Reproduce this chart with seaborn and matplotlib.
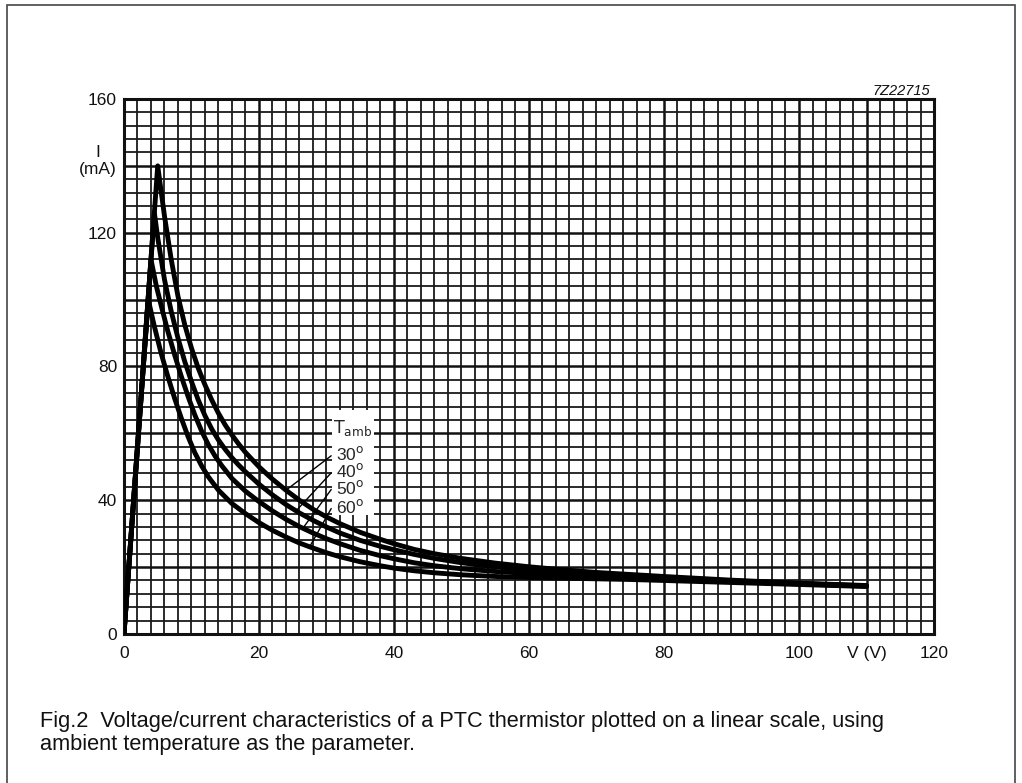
import numpy as np
import pandas as pd
import matplotlib.pyplot as plt
from matplotlib.patches import Rectangle
import seaborn as sns


# Data --------------------------------------------------------------------------------------------

temps = ["30", "40", "50", "60"]

v_30 = [0, 5, 6, 7, 8, 9, 10, 11, 12, 13, 14, 15, 16, 17, 18, 20, 22, 24, 26, 28, 30, 32, 35, 38, 40,
        43, 46, 50, 55, 60, 65, 70, 75, 80, 90, 100, 110]
i_30 = [0, 140, 125, 112, 101, 92.5, 85.5, 79.5, 74.5, 70, 66, 62.5, 59.5, 56.8, 54.3, 50, 46.3, 43, 40,
        37.3, 35, 33, 30.4, 28.3, 27, 25.3, 24, 22.6, 21.2, 20.1, 19.2, 18.4, 17.8, 17.2, 16.1, 15.2, 14.5]

v_40 = [0, 4.5, 5, 6, 7, 8, 9, 10, 11, 12, 13, 14, 15, 16, 17, 18, 20, 22, 24, 26, 28, 30, 32, 35, 38,
        40, 43, 46, 50, 55, 60, 65, 70, 75, 80, 90, 100, 110]
i_40 = [0, 126, 118.5, 106, 96.5, 88.5, 81.5, 75.5, 70, 65.3, 61.3, 58, 55.2, 52.7, 50.5, 48.5, 44.8, 41.6,
        38.7, 36.2, 34, 32, 30.2, 28, 26.2, 25.2, 23.8, 22.6, 21.3, 20.1, 19.2, 18.5, 17.9, 17.4, 16.9, 15.9,
        15.1, 14.4]

v_50 = [0, 4.0, 4.8, 5.6, 6.5, 7.5, 8.5, 9.5, 10.5, 11.5, 12.5, 13.5, 14.5, 16, 18, 20, 22, 24, 26, 28,
        30, 32, 35, 38, 40, 43, 46, 50, 55, 60, 65, 70, 75, 80, 90, 100, 110]
i_50 = [0, 112, 104, 97.5, 90.5, 83.5, 77, 71, 65.5, 60.7, 56.6, 53.2, 50.3, 46.5, 42.7, 39.6, 36.8, 34.3,
        32.1, 30.2, 28.5, 27, 25, 23.4, 22.5, 21.3, 20.4, 19.5, 18.7, 18.1, 17.6, 17.2, 16.9, 16.6, 15.7,
        15, 14.3]

v_60 = [0, 3.6, 4.5, 5.5, 6.5, 7.5, 8.5, 9.5, 10.5, 11.5, 12.5, 14, 16, 18, 20, 22, 24, 26, 28, 30, 32,
        35, 38, 40, 43, 46, 50, 55, 60, 65, 70, 75, 80, 90, 100, 110]
i_60 = [0, 100, 92, 84, 77, 70.5, 64.5, 59, 54.2, 50.3, 47, 43, 39, 36, 33.3, 31, 29, 27.2, 25.7, 24.3,
        23.1, 21.6, 20.4, 19.7, 18.9, 18.3, 17.7, 17.2, 16.9, 16.7, 16.5, 16.3, 16, 15.4, 14.8, 14.2]

# where each label's pointer meets its curve (V) and the label heights (mA)
pointer_v = [24.0, 25.5, 26.5, 27.5]
label_i = [53.8, 48.7, 43.7, 38.0]

x_ticks = [0, 20, 40, 60, 80, 100, 110, 120]
x_labels = ["0", "20", "40", "60", "80", "100", "V (V)", "120"]
y_ticks = [0, 20, 40, 60, 80, 100, 120, 140, 160]
y_labels = ["0", "", "40", "", "80", "", "120", "", "160"]
y_unit = "I\n(mA)"

caption = ("Fig.2  Voltage/current characteristics of a PTC thermistor plotted on a linear scale, using\n"
           "ambient temperature as the parameter.")

curves = {"30": (v_30, i_30), "40": (v_40, i_40), "50": (v_50, i_50), "60": (v_60, i_60)}

df = pd.concat(
    [pd.DataFrame({"V": v, "I": i, "T": t}) for t, (v, i) in curves.items()],
    ignore_index=True,
)


# Plot --------------------------------------------------------------------------------------------

sns.set_theme(style="white")
plt.rcParams["font.family"] = ["Liberation Sans", "DejaVu Sans"]

fig = plt.figure(figsize=(10.22, 7.83), dpi=100)
ax = fig.add_axes([0.1213, 0.1903, 0.7926, 0.6833])

sns.lineplot(
    data=df, x="V", y="I", hue="T", palette=["black"] * 4,
    estimator=None, sort=False, linewidth=3.5, legend=False, ax=ax, zorder=5,
)

ax.set_xlim(0, 120)
ax.set_ylim(0, 160)
ax.set_xticks(x_ticks)
ax.set_xticklabels(x_labels)
ax.set_yticks(y_ticks)
ax.set_yticklabels(y_labels)
ax.set_xticks(np.arange(0, 121, 2), minor=True)
ax.set_yticks(np.arange(0, 161, 4), minor=True)
ax.tick_params(which="both", length=0)
ax.tick_params(axis="x", pad=9, labelsize=12.5, colors="#111111")
ax.tick_params(axis="y", pad=5, labelsize=12.5, colors="#111111")
ax.grid(which="minor", color="#1a1a1a", linewidth=1.3)
ax.grid(which="major", color="#111111", linewidth=1.8)
ax.set_axisbelow(True)
ax.set_xlabel("")
ax.set_ylabel("")
for sp in ax.spines.values():
    sp.set_color("#111111")
    sp.set_linewidth(2.2)

# unit label sitting just above the 140 line
ax.text(-0.0085, 141.5, y_unit, transform=ax.get_yaxis_transform(), ha="right", va="center",
        multialignment="center", fontsize=12.5, color="#111111", linespacing=1.15)

# T_amb labels on a white patch
ax.add_patch(Rectangle((30.8, 35.5), 6.3, 31.5, facecolor="white", edgecolor="none", zorder=3))
ax.text(31.0, 61.6, r"$\mathrm{T_{amb}}$", fontsize=12.5, va="center", ha="left", zorder=6)
for t, v_end, li in zip(temps, pointer_v, label_i):
    ax.text(31.4, li, t + r"$^{\mathrm{o}}$", fontsize=12.5, va="center", ha="left", zorder=6)
    v, i = curves[t]
    ax.plot([30.7, v_end], [li - 0.5, np.interp(v_end, v, i)], color="black", linewidth=1.0, zorder=6)

ax.text(0.995, 1.002, "7Z22715", transform=ax.transAxes, ha="right", va="bottom",
        fontsize=10.5, style="italic", color="#111111")

fig.text(40 / 1022, 1 - 733 / 783, caption, fontsize=15.7, va="center", ha="left",
         linespacing=1.1, color="#111111")

# page frame
fig.patches.append(Rectangle((7 / 1022, -0.05), 1008 / 1022, 1.05 - 5 / 783, transform=fig.transFigure,
                             fill=False, edgecolor="#444444", linewidth=1.2))

fig.savefig("out.png", dpi=100, facecolor="white")
